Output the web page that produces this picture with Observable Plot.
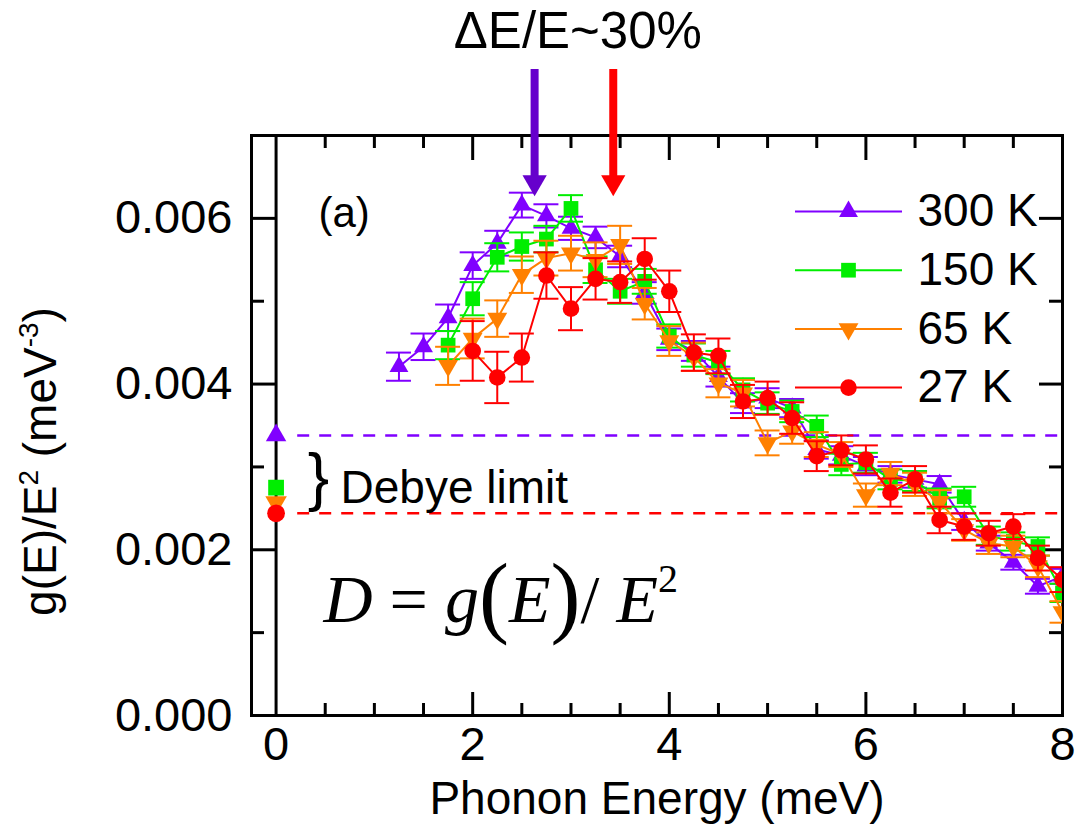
<!DOCTYPE html>
<html>
<head>
<meta charset="utf-8">
<script src="https://cdn.jsdelivr.net/npm/d3@7"></script>
<script src="https://cdn.jsdelivr.net/npm/@observablehq/plot@0.6"></script>
<style>
  body { margin: 0; background: #fff; }
  svg { display: block; }
</style>
</head>
<body>
<div id="chart"></div>
<script>
// Reduced phonon DOS g(E)/E^2 (meV^-3) versus phonon energy (meV) at four temperatures.
const labels = ["300 K", "150 K", "65 K", "27 K"];
const colors = ["#8000ff", "#00ee00", "#ff8000", "#ff0000"];

const energy300 = [1.25, 1.5, 1.75, 2, 2.25, 2.5, 2.75, 3, 3.25, 3.5, 3.75, 4, 4.25, 4.5, 4.75, 5, 5.25, 5.5, 5.75, 6, 6.25, 6.5, 6.75, 7, 7.25, 7.5, 7.75, 8];
const dos300 = [0.00421, 0.00445, 0.00480, 0.00543, 0.00570, 0.00616, 0.00603, 0.00588, 0.00577, 0.00554, 0.00510, 0.00454, 0.00440, 0.00409, 0.00377, 0.00383, 0.00371, 0.00321, 0.00314, 0.00301, 0.00291, 0.00285, 0.00279, 0.00234, 0.00208, 0.00185, 0.00156, 0.00168];
const err300 = [0.00017, 0.00016, 0.00016, 0.00016, 0.00015, 0.00015, 0.00014, 0.00014, 0.00013, 0.00013, 0.00013, 0.00013, 0.00012, 0.00012, 0.00012, 0.00012, 0.00011, 0.00011, 0.00011, 0.00011, 0.00010, 0.00010, 0.00010, 0.00010, 0.00009, 0.00009, 0.00009, 0.00009];

const energy150 = [1.75, 2, 2.25, 2.5, 2.75, 3, 3.25, 3.5, 3.75, 4, 4.25, 4.5, 4.75, 5, 5.25, 5.5, 5.75, 6, 6.25, 6.5, 6.75, 7, 7.25, 7.5, 7.75, 8];
const dos150 = [0.00447, 0.00503, 0.00553, 0.00566, 0.00575, 0.00612, 0.00538, 0.00512, 0.00524, 0.00458, 0.00435, 0.00426, 0.00393, 0.00377, 0.00367, 0.00349, 0.00303, 0.00305, 0.00285, 0.00283, 0.00262, 0.00264, 0.00217, 0.00210, 0.00204, 0.00148];
const err150 = [0.00017, 0.00020, 0.00017, 0.00017, 0.00016, 0.00016, 0.00016, 0.00015, 0.00015, 0.00014, 0.00014, 0.00014, 0.00014, 0.00013, 0.00013, 0.00013, 0.00013, 0.00012, 0.00012, 0.00012, 0.00012, 0.00012, 0.00011, 0.00011, 0.00011, 0.00011];

const energy65 = [1.75, 2, 2.25, 2.5, 2.75, 3, 3.25, 3.5, 3.75, 4, 4.25, 4.5, 4.75, 5, 5.25, 5.5, 5.75, 6, 6.25, 6.5, 6.75, 7, 7.25, 7.5, 7.75, 8];
const dos65 = [0.00422, 0.00455, 0.00479, 0.00532, 0.00552, 0.00558, 0.00550, 0.00568, 0.00497, 0.00452, 0.00433, 0.00401, 0.00389, 0.00329, 0.00343, 0.00327, 0.00315, 0.00266, 0.00292, 0.00279, 0.00258, 0.00224, 0.00208, 0.00204, 0.00180, 0.00125];
const err65 = [0.00023, 0.00024, 0.00022, 0.00022, 0.00021, 0.00021, 0.00021, 0.00023, 0.00019, 0.00018, 0.00017, 0.00017, 0.00016, 0.00015, 0.00015, 0.00015, 0.00015, 0.00014, 0.00014, 0.00014, 0.00014, 0.00013, 0.00013, 0.00013, 0.00013, 0.00013];

const energy27 = [2, 2.25, 2.5, 2.75, 3, 3.25, 3.5, 3.75, 4, 4.25, 4.5, 4.75, 5, 5.25, 5.5, 5.75, 6, 6.25, 6.5, 6.75, 7, 7.25, 7.5, 7.75, 8];
const dos27 = [0.00440, 0.00408, 0.00432, 0.00531, 0.00491, 0.00527, 0.00523, 0.00551, 0.00512, 0.00438, 0.00434, 0.00379, 0.00383, 0.00359, 0.00313, 0.00320, 0.00309, 0.00269, 0.00285, 0.00236, 0.00228, 0.00220, 0.00228, 0.00190, 0.00164];
const err27 = [0.00036, 0.00031, 0.00029, 0.00028, 0.00026, 0.00025, 0.00025, 0.00025, 0.00025, 0.00022, 0.00021, 0.00020, 0.00020, 0.00019, 0.00018, 0.00018, 0.00017, 0.00017, 0.00016, 0.00016, 0.00016, 0.00015, 0.00015, 0.00015, 0.00015];

// Debye-limit values plotted at E = 0 (one per temperature)
const debyeLimit = [0.00338, 0.00275, 0.00257, 0.00244];

// Instrument resolution markers (ΔE/E ~ 30%)
const resolutionEnergy = [2.63, 3.43];
const resolutionColors = ["#6600cc", "#ff0000"];

const xTickLabels = [0, 2, 4, 6, 8];
const yTickLabels = [0, 0.002, 0.004, 0.006];

// ---- layout ----
const W = 1077, H = 836;
const ML = 251, MR = 15, MT = 135, MB = 121;
const X0 = -0.25, X1 = 8, Y0 = 0, Y1 = 0.007;
const kx = (W - ML - MR) / (X1 - X0);
const ky = (H - MT - MB) / (Y1 - Y0);
const dxPx = p => p / kx;   // pixels -> meV
const dyPx = p => p / ky;   // pixels -> meV^-3
const FONT = "'Liberation Sans', Arial, Helvetica, sans-serif";

// downward-pointing triangle symbol
const triangleDown = {
  draw(context, size) {
    const s3 = Math.sqrt(3);
    const y = -Math.sqrt(size / (s3 * 3));
    context.moveTo(0, -y * 2);
    context.lineTo(-s3 * y, y);
    context.lineTo(s3 * y, y);
    context.closePath();
  }
};
const symbols = ["triangle", "square", triangleDown, "circle"];
const radii = [7, 8.3, 7.4, 8.3];

const energies = [energy300, energy150, energy65, energy27];
const dosValues = [dos300, dos150, dos65, dos27];
const errors = [err300, err150, err65, err27];

const series = labels.map((label, i) => ({
  label, color: colors[i], symbol: symbols[i], r: radii[i],
  rows: energies[i].map((E, j) => ({E, v: dosValues[i][j], e: errors[i][j]}))
}));

const capHalf = dxPx(12.5);

const seriesMarks = series.flatMap(s => [
  Plot.ruleX(s.rows, {x: "E", y1: d => d.v - d.e, y2: d => d.v + d.e, stroke: s.color, strokeWidth: 2, clip: true}),
  Plot.ruleY(s.rows, {y: d => d.v + d.e, x1: d => d.E - capHalf, x2: d => d.E + capHalf, stroke: s.color, strokeWidth: 2, clip: true}),
  Plot.ruleY(s.rows, {y: d => d.v - d.e, x1: d => d.E - capHalf, x2: d => d.E + capHalf, stroke: s.color, strokeWidth: 2, clip: true}),
  Plot.line(s.rows, {x: "E", y: "v", stroke: s.color, strokeWidth: 2, clip: true}),
  Plot.dot(s.rows, {x: "E", y: "v", symbol: s.symbol, r: s.r, fill: s.color, stroke: "none", clip: true})
]);

// inward ticks on all four sides
const xMinor = d3.range(0.5, 8, 0.5);
const xMajor = [2, 4, 6];
const yTicks = d3.range(1, 7).map(k => k * 0.001);
const isMajorY = d => Math.round(d * 1000) % 2 === 0;
const tickMarks = [
  Plot.ruleX(xMinor, {x: d => d, y1: Y0, y2: d => Y0 + dyPx(xMajor.includes(d) ? 23 : 12), stroke: "black", strokeWidth: 3}),
  Plot.ruleX(xMinor, {x: d => d, y1: Y1, y2: d => Y1 - dyPx(xMajor.includes(d) ? 25 : 13), stroke: "black", strokeWidth: 3}),
  Plot.ruleY(yTicks, {y: d => d, x1: X0, x2: d => X0 + dxPx(isMajorY(d) ? 24 : 13), stroke: "black", strokeWidth: 3}),
  Plot.ruleY(yTicks, {y: d => d, x1: X1, x2: d => X1 - dxPx(isMajorY(d) ? 23 : 13), stroke: "black", strokeWidth: 3})
];

// legend inside the frame (top right)
const legendX1 = X0 + dxPx(544), legendX2 = X0 + dxPx(651);
const legendMarkX = X0 + dxPx(597), legendTextX = X0 + dxPx(666);
const legendRows = series.map((s, i) => ({...s, y: Y1 - dyPx(76 + i * 58.7)}));
const legendMarks = [
  ...legendRows.map(s => Plot.ruleY([s], {y: "y", x1: legendX1, x2: legendX2, stroke: s.color, strokeWidth: 2})),
  ...legendRows.map(s => Plot.dot([s], {x: legendMarkX, y: "y", symbol: s.symbol, r: s.r, fill: s.color})),
  Plot.text(legendRows, {x: legendTextX, y: "y", text: "label", textAnchor: "start", fontSize: 46, fill: "black"})
];

// resolution arrows above the frame
const arrowTipY = Y1 - dyPx(195 - MT);
const arrowTopY = Y1 + dyPx(MT - 69);
const arrowRows = resolutionEnergy.map((E, i) => ({E, color: resolutionColors[i]}));
const arrowMarks = [
  ...arrowRows.map(a => Plot.ruleX([a], {x: "E", y1: arrowTopY, y2: arrowTipY + dyPx(17), stroke: a.color, strokeWidth: 8, clip: false})),
  ...arrowRows.map(a => Plot.dot([a], {x: "E", y: arrowTipY + dyPx(13.3), symbol: triangleDown, r: 9, fill: a.color, clip: false}))
];

const chart = Plot.plot({
  width: W, height: H,
  marginLeft: ML, marginRight: MR, marginTop: MT, marginBottom: MB,
  style: {fontFamily: FONT, fontSize: "47px", color: "black", background: "white", overflow: "visible"},
  x: {domain: [X0, X1], ticks: xTickLabels, tickFormat: d => String(d), tickSize: 0, tickPadding: 11, label: null},
  y: {domain: [Y0, Y1], ticks: yTickLabels, tickFormat: d3.format(".3f"), tickSize: 0, tickPadding: 19, label: null},
  marks: [
    // Debye-limit dashed references
    Plot.ruleY([debyeLimit[0]], {y: d => d, x1: 0.22, x2: X1, stroke: colors[0], strokeWidth: 2.5, strokeDasharray: "12,10"}),
    Plot.ruleY([debyeLimit[3]], {y: d => d, x1: 0.22, x2: X1, stroke: colors[3], strokeWidth: 2.5, strokeDasharray: "12,10"}),
    Plot.ruleX([0], {x: d => d, stroke: "black", strokeWidth: 3}),
    ...tickMarks,
    Plot.frame({stroke: "black", strokeWidth: 3}),
    ...seriesMarks,
    ...debyeLimit.map((v, i) => Plot.dot([v], {x: 0, y: d => d, symbol: symbols[i], r: radii[i] + 0.6, fill: colors[i]})),
    ...legendMarks,
    ...arrowMarks,
    Plot.text(["ΔE/E~30%"], {x: 3.07, y: Y1 + dyPx(MT - 31), fontSize: 51, fill: "black", clip: false}),
    Plot.text(["(a)"], {x: X0 + dxPx(67), y: Y1 - dyPx(78), textAnchor: "start", fontSize: 42, fill: "black"}),
    Plot.text(["}"], {x: X0 + dxPx(67), y: Y1 - dyPx(343), fontSize: 64, fill: "black", fontWeight: 300}),
    Plot.text(["Debye limit"], {x: X0 + dxPx(89), y: Y1 - dyPx(353), textAnchor: "start", fontSize: 46, fill: "black"}),
    Plot.text(["D = g(E)/ E2"], {x: X0 + dxPx(72), y: Y1 - dyPx(465), textAnchor: "start", fontSize: 68, fill: "black"}),
    Plot.text(["g(E)/E2 (meV-3)"], {frameAnchor: "left", textAnchor: "middle", dx: -210, dy: 36, rotate: -90, fontSize: 46, fill: "black"}),
    Plot.text(["Phonon Energy (meV)"], {frameAnchor: "bottom", textAnchor: "middle", dy: 98, fontSize: 46, fill: "black"})
  ]
});

// typeset superscripts and italics
const svg = d3.select(chart);
svg.selectAll("text").each(function () {
  const t = d3.select(this);
  const content = this.textContent;
  if (content === "D = g(E)/ E2") {
    t.text(null).attr("font-family", "'Liberation Serif', 'Times New Roman', serif");
    const parts = [
      ["D", {"font-style": "italic"}],
      [" = ", {}],
      ["g", {"font-style": "italic"}],
      ["(", {"font-size": 90, "dy": 4}],
      ["E", {"font-style": "italic", "dy": -4}],
      [")", {"font-size": 90, "dy": 4}],
      ["/ ", {"dy": -4}],
      ["E", {"font-style": "italic"}],
      ["2", {"font-size": 40, "dy": -30}]
    ];
    for (const [s, attrs] of parts) {
      const ts = t.append("tspan").text(s);
      for (const k in attrs) ts.attr(k, attrs[k]);
    }
  } else if (content === "g(E)/E2 (meV-3)") {
    t.text(null);
    t.append("tspan").text("g(E)/E");
    t.append("tspan").text("2").attr("font-size", 28).attr("dy", -18);
    t.append("tspan").text(" (meV").attr("dy", 18);
    t.append("tspan").text("-3").attr("font-size", 28).attr("dy", -18);
    t.append("tspan").text(")").attr("dy", 18);
  }
});

document.getElementById("chart").appendChild(chart);
</script>
</body>
</html>
